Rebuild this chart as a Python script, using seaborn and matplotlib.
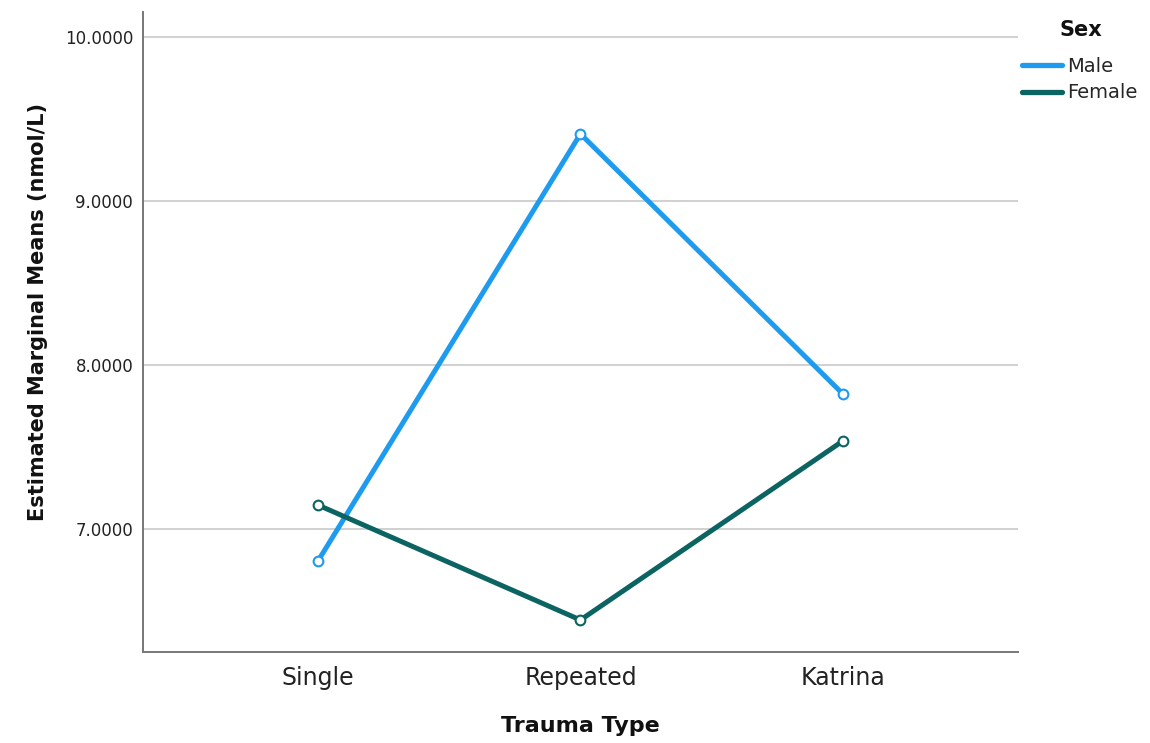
import matplotlib
matplotlib.use("Agg")
import matplotlib.pyplot as plt
import seaborn as sns
import pandas as pd
from matplotlib.lines import Line2D

# Estimated marginal means of cortisol by trauma type and sex
trauma_types = ["Single", "Repeated", "Katrina"]
male_means = [6.805, 9.409, 7.823]
female_means = [7.146, 6.445, 7.537]
sex_levels = ["Male", "Female"]
y_ticks = [7.0, 8.0, 9.0, 10.0]

palette = {"Male": "#1E9BEF", "Female": "#0B6461"}

df = pd.DataFrame({
    "Trauma Type": trauma_types * 2,
    "Mean": male_means + female_means,
    "Sex": ["Male"] * 3 + ["Female"] * 3,
})
df["x"] = df["Trauma Type"].map({t: i for i, t in enumerate(trauma_types)})

sns.set_theme(style="white")
plt.rcParams["font.family"] = ["DejaVu Sans"]

fig = plt.figure(figsize=(11.5, 7.43), dpi=100)
ax = fig.add_axes([0.1243, 0.1225, 0.7609, 0.8613])

sns.lineplot(
    data=df, x="x", y="Mean", hue="Sex", hue_order=sex_levels,
    palette=palette, linewidth=3.6, marker="o", markersize=7,
    markerfacecolor="white", markeredgewidth=1.5, ax=ax, legend=False,
)
# Marker outlines take the colour of their line
for line in ax.lines:
    line.set_markeredgecolor(line.get_color())

ax.set_xlim(-0.667, 2.667)
ax.set_ylim(6.25, 10.152)
ax.set_xticks(range(len(trauma_types)))
ax.set_xticklabels(trauma_types, fontsize=17)
ax.set_yticks(y_ticks)
ax.set_yticklabels([f"{v:.4f}" for v in y_ticks], fontsize=12)
ax.tick_params(axis="both", length=0, colors="#222222")
ax.tick_params(axis="x", pad=10)
ax.tick_params(axis="y", pad=7)

ax.yaxis.grid(True, color="#C8C8C8", linewidth=1.2)
ax.set_axisbelow(True)
for side in ["top", "right"]:
    ax.spines[side].set_visible(False)
for side in ["left", "bottom"]:
    ax.spines[side].set_color("#777777")
    ax.spines[side].set_linewidth(1.4)

ax.set_xlabel("Trauma Type", fontsize=16, fontweight="bold", labelpad=19, color="#111111")
ax.set_ylabel("Estimated Marginal Means (nmol/L)", fontsize=15, fontweight="bold", color="#111111")
ax.yaxis.set_label_coords(-0.108, 0.531)

# Legend: bold title above two line entries
fig.text(0.9395, 1 - 30 / 743, "Sex", fontsize=15, fontweight="bold",
         ha="center", va="center", color="#111111")
handles = [Line2D([0], [0], color=palette[s], linewidth=3.8) for s in sex_levels]
fig.legend(
    handles, sex_levels, loc="upper left",
    bbox_to_anchor=(1022 / 1150, 1 - 57 / 743), frameon=False, fontsize=14,
    handlelength=2.05, handletextpad=0.26, labelspacing=0.38,
    borderpad=0, borderaxespad=0,
)

fig.savefig("out.png", dpi=100)
